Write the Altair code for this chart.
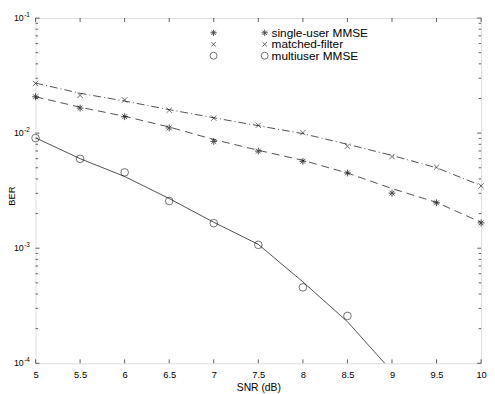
import altair as alt
import pandas as pd

# ---- data ----
snr = [5.0, 5.5, 6.0, 6.5, 7.0, 7.5, 8.0, 8.5, 9.0, 9.5, 10.0]

# simulated points (markers)
su_mmse_pts = [0.0207, 0.0165, 0.0139, 0.0111, 0.00847, 0.00698, 0.00569, 0.00451, 0.00301, 0.00248, 0.00166]
mf_pts = [0.0270, 0.0213, 0.0194, 0.0158, 0.0135, 0.0117, 0.0101, 0.00769, 0.00626, 0.00506, 0.00348]
mu_snr = [5.0, 5.5, 6.0, 6.5, 7.0, 7.5, 8.0, 8.5]
mu_mmse_pts = [0.00906, 0.00598, 0.00456, 0.00257, 0.00165, 0.00107, 0.000457, 0.000258]

# analytical curves (lines)
su_mmse_curve = [0.0207, 0.0168, 0.0140, 0.0113, 0.0088, 0.0071, 0.0058, 0.0045, 0.0033, 0.0025, 0.00168]
mf_curve = [0.0272, 0.0222, 0.0190, 0.0160, 0.0136, 0.0116, 0.0099, 0.0080, 0.0064, 0.0050, 0.0035]
mu_curve_snr = [5.0, 5.5, 6.0, 6.5, 7.0, 7.5, 8.0, 8.5, 9.0]
mu_mmse_curve = [0.0091, 0.0060, 0.0042, 0.0027, 0.00168, 0.00108, 0.00051, 0.00023, 0.000085]

legend_labels = ["single-user MMSE", "matched-filter", "multiuser MMSE"]

x_ticks = [5.0, 5.5, 6.0, 6.5, 7.0, 7.5, 8.0, 8.5, 9.0, 9.5, 10.0]
y_major = [1e-4, 1e-3, 1e-2, 1e-1]
y_exp = ["-4", "-3", "-2", "-1"]
y_minor = [k * 10.0 ** d for d in (-4, -3, -2) for k in range(2, 10)]

# ---- layout ----
W, H = 453, 351
FONT = "Liberation Sans"

ASTERISK = "M-1,0L1,0M0,-1L0,1M-0.7,-0.7L0.7,0.7M-0.7,0.7L0.7,-0.7"
XMARK = "M-1,-1L1,1M-1,1L1,-1"

xs = alt.Scale(domain=[5, 10], nice=False, zero=False)
ys = alt.Scale(type="log", domain=[1e-4, 1e-1], nice=False)

su_pts_df = pd.DataFrame({"snr": snr, "ber": su_mmse_pts})
mf_pts_df = pd.DataFrame({"snr": snr, "ber": mf_pts})
mu_pts_df = pd.DataFrame({"snr": mu_snr, "ber": mu_mmse_pts})
su_c_df = pd.DataFrame({"snr": snr, "ber": su_mmse_curve})
mf_c_df = pd.DataFrame({"snr": snr, "ber": mf_curve})
mu_c_df = pd.DataFrame({"snr": mu_curve_snr, "ber": mu_mmse_curve})

X = alt.X("snr:Q", scale=xs,
          axis=alt.Axis(title="SNR (dB)", values=x_ticks, format="~g", ticks=False, tickSize=0,
                        domain=False, grid=False, labelFont=FONT, labelFontSize=9.5,
                        labelColor="black", labelPadding=6, titleFont=FONT,
                        titleFontSize=10.5, titleFontWeight="normal", titleColor="black",
                        titlePadding=4, labelFlush=False))
Y = alt.Y("ber:Q", scale=ys, axis=None)

line_color = "#222222"

su_line = alt.Chart(su_c_df).mark_line(color=line_color, strokeWidth=0.8, strokeDash=[8, 5]).encode(x=X, y=Y)
mf_line = alt.Chart(mf_c_df).mark_line(color=line_color, strokeWidth=0.8, strokeDash=[8, 3, 1, 3]).encode(x=X, y=Y)
mu_line = alt.Chart(mu_c_df).mark_line(color=line_color, strokeWidth=0.8, clip=True).encode(x=X, y=Y)

su_pts = alt.Chart(su_pts_df).mark_point(shape=ASTERISK, size=49, color="black", strokeWidth=1, filled=False).encode(x=X, y=Y)
mf_pts_l = alt.Chart(mf_pts_df).mark_point(shape=XMARK, size=30, color="black", strokeWidth=0.8, filled=False).encode(x=X, y=Y)
mu_pts_l = alt.Chart(mu_pts_df).mark_point(shape="circle", size=60, color="black", strokeWidth=0.8, filled=False).encode(x=X, y=Y)

# ---- inward ticks ----
xt_df = pd.DataFrame({"snr": x_ticks})
ymaj_df = pd.DataFrame({"ber": y_major})
ymin_df = pd.DataFrame({"ber": y_minor})
tick_style = dict(color="#333333", strokeWidth=0.8)

xt_bot = alt.Chart(xt_df).mark_rule(**tick_style).encode(x=alt.X("snr:Q", scale=xs), y=alt.value(H), y2=alt.value(H - 4))
xt_top = alt.Chart(xt_df).mark_rule(**tick_style).encode(x=alt.X("snr:Q", scale=xs), y=alt.value(0), y2=alt.value(4))
ymaj_l = alt.Chart(ymaj_df).mark_rule(**tick_style).encode(y=alt.Y("ber:Q", scale=ys), x=alt.value(0), x2=alt.value(4))
ymaj_r = alt.Chart(ymaj_df).mark_rule(**tick_style).encode(y=alt.Y("ber:Q", scale=ys), x=alt.value(W - 4), x2=alt.value(W))
ymin_l = alt.Chart(ymin_df).mark_rule(**tick_style).encode(y=alt.Y("ber:Q", scale=ys), x=alt.value(0), x2=alt.value(2.5))
ymin_r = alt.Chart(ymin_df).mark_rule(**tick_style).encode(y=alt.Y("ber:Q", scale=ys), x=alt.value(W - 2.5), x2=alt.value(W))

# ---- y tick labels 10^n ----
ylab_df = pd.DataFrame({"ber": y_major, "exp": y_exp, "base": ["10"] * 4})
ylab_base = alt.Chart(ylab_df).mark_text(font=FONT, fontSize=9, align="right", baseline="middle", color="black").encode(
    y=alt.Y("ber:Q", scale=ys), x=alt.value(-12), text="base:N")
ylab_exp = alt.Chart(ylab_df).mark_text(font=FONT, fontSize=6.5, align="left", baseline="middle", color="black", dy=-3.5).encode(
    y=alt.Y("ber:Q", scale=ys), x=alt.value(-11.5), text="exp:N")

ytitle = alt.Chart(pd.DataFrame({"t": ["BER"]})).mark_text(
    font=FONT, fontSize=9.5, angle=270, align="center", baseline="middle", color="black").encode(
    x=alt.value(-24), y=alt.value(181), text="t:N")

# ---- legend ----
legend_layers = []
shapes = [(ASTERISK, 40, 1.0), (XMARK, 22, 0.8), ("circle", 50, 0.8)]
rows_y = [15, 26.7, 38.3]
for i, (lab, (shp, sz, sw)) in enumerate(zip(legend_labels, shapes)):
    d = pd.DataFrame({"label": [lab]})
    for mx in (181, 233):
        legend_layers.append(
            alt.Chart(d).mark_point(shape=shp, size=sz, color="black", strokeWidth=sw, filled=False).encode(
                x=alt.value(mx), y=alt.value(rows_y[i])))
    legend_layers.append(
        alt.Chart(d).mark_text(font=FONT, fontSize=12, align="left", baseline="middle", color="black").encode(
            x=alt.value(240), y=alt.value(rows_y[i]), text="label:N"))

chart = alt.layer(
    su_line, mf_line, mu_line, su_pts, mf_pts_l, mu_pts_l,
    xt_bot, xt_top, ymaj_l, ymaj_r, ymin_l, ymin_r,
    ylab_base, ylab_exp, ytitle, *legend_layers
).properties(
    width=W, height=H,
    autosize=alt.AutoSizeParams(type="none"),
    padding={"left": 28, "top": 7, "right": 6, "bottom": 28},
).configure_view(stroke="#333333", strokeWidth=1).configure(background="white")

chart.save("out.html", embed_options={"renderer": "svg", "actions": False})
